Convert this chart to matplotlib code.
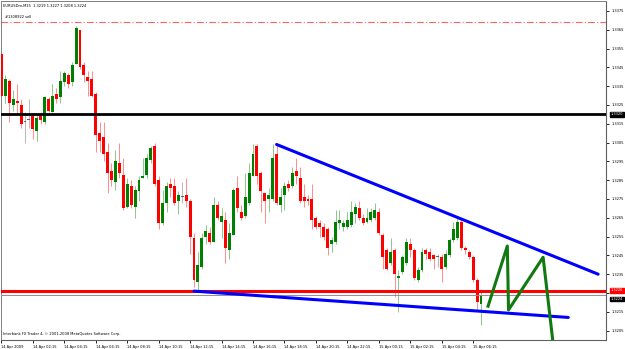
import matplotlib
matplotlib.use("Agg")
import matplotlib.pyplot as plt
import matplotlib.transforms as mtransforms
import numpy as np

# EURUSDm M15 bars, 14 Apr 2009 00:15 onward
opens = [1.3352, 1.3330, 1.3338, 1.3325, 1.3327, 1.3325, 1.3316, 1.3317, 1.3319, 1.3311,
         1.3319, 1.3316, 1.3328, 1.3321, 1.3331, 1.3329, 1.3337, 1.3341, 1.3337, 1.3347,
         1.3365, 1.3346, 1.3340, 1.3339, 1.3331, 1.3310, 1.3308, 1.3300, 1.3290, 1.3284,
         1.3294, 1.3288, 1.3271, 1.3282, 1.3271, 1.3279, 1.3286, 1.3288, 1.3296, 1.3303,
         1.3285, 1.3262, 1.3273, 1.3283, 1.3282, 1.3274, 1.3276, 1.3277, 1.3274, 1.3254,
         1.3231, 1.3239, 1.3255, 1.3257, 1.3252, 1.3272, 1.3263, 1.3264, 1.3248, 1.3256,
         1.3281, 1.3268, 1.3266, 1.3273, 1.3287, 1.3303, 1.3289, 1.3278, 1.3275, 1.3275,
         1.3299, 1.3272, 1.3277, 1.3283, 1.3282, 1.3290, 1.3286, 1.3276, 1.3275, 1.3275,
         1.3265, 1.3262, 1.3260, 1.3259, 1.3251, 1.3252, 1.3262, 1.3260, 1.3260, 1.3261,
         1.3267, 1.3270, 1.3265, 1.3263, 1.3264, 1.3265, 1.3268, 1.3256, 1.3248, 1.3241,
         1.3248, 1.3233, 1.3236, 1.3241, 1.3251, 1.3248, 1.3232, 1.3237, 1.3248, 1.3247,
         1.3245, 1.3244, 1.3244, 1.3239, 1.3245, 1.3253, 1.3254, 1.3263, 1.3249, 1.3247,
         1.3244, 1.3232, 1.3219]
highs = [1.3353, 1.3341, 1.3339, 1.3333, 1.3336, 1.3328, 1.3321, 1.3328, 1.3320, 1.3320,
         1.3321, 1.3330, 1.3329, 1.3336, 1.3334, 1.3343, 1.3343, 1.3342, 1.3348, 1.3367,
         1.3365, 1.3348, 1.3343, 1.3343, 1.3332, 1.3316, 1.3316, 1.3305, 1.3294, 1.3301,
         1.3305, 1.3297, 1.3286, 1.3285, 1.3282, 1.3287, 1.3297, 1.3299, 1.3303, 1.3305,
         1.3287, 1.3280, 1.3284, 1.3286, 1.3286, 1.3279, 1.3284, 1.3286, 1.3275, 1.3257,
         1.3247, 1.3257, 1.3261, 1.3260, 1.3276, 1.3274, 1.3270, 1.3268, 1.3262, 1.3281,
         1.3287, 1.3272, 1.3289, 1.3294, 1.3304, 1.3304, 1.3290, 1.3278, 1.3281, 1.3304,
         1.3304, 1.3281, 1.3284, 1.3285, 1.3292, 1.3297, 1.3292, 1.3283, 1.3277, 1.3283,
         1.3266, 1.3264, 1.3262, 1.3260, 1.3255, 1.3269, 1.3269, 1.3264, 1.3268, 1.3274,
         1.3273, 1.3274, 1.3267, 1.3270, 1.3270, 1.3273, 1.3270, 1.3257, 1.3249, 1.3254,
         1.3249, 1.3237, 1.3245, 1.3254, 1.3254, 1.3249, 1.3239, 1.3249, 1.3249, 1.3249,
         1.3246, 1.3246, 1.3246, 1.3248, 1.3254, 1.3263, 1.3265, 1.3265, 1.3250, 1.3248,
         1.3245, 1.3233, 1.3227]
lows = [1.3328, 1.3326, 1.3316, 1.3322, 1.3320, 1.3313, 1.3305, 1.3313, 1.3307, 1.3306,
        1.3315, 1.3315, 1.3321, 1.3321, 1.3326, 1.3326, 1.3335, 1.3334, 1.3335, 1.3347,
        1.3344, 1.3337, 1.3330, 1.3329, 1.3300, 1.3300, 1.3295, 1.3278, 1.3282, 1.3280,
        1.3286, 1.3269, 1.3270, 1.3270, 1.3265, 1.3274, 1.3286, 1.3286, 1.3294, 1.3282,
        1.3259, 1.3261, 1.3268, 1.3276, 1.3272, 1.3267, 1.3273, 1.3271, 1.3246, 1.3228,
        1.3226, 1.3238, 1.3251, 1.3251, 1.3252, 1.3264, 1.3254, 1.3241, 1.3243, 1.3256,
        1.3268, 1.3264, 1.3265, 1.3272, 1.3287, 1.3283, 1.3268, 1.3262, 1.3268, 1.3274,
        1.3272, 1.3268, 1.3269, 1.3279, 1.3281, 1.3283, 1.3273, 1.3271, 1.3272, 1.3259,
        1.3259, 1.3255, 1.3253, 1.3245, 1.3247, 1.3251, 1.3259, 1.3258, 1.3259, 1.3260,
        1.3262, 1.3264, 1.3261, 1.3262, 1.3263, 1.3264, 1.3256, 1.3238, 1.3237, 1.3240,
        1.3223, 1.3215, 1.3235, 1.3240, 1.3244, 1.3232, 1.3231, 1.3236, 1.3243, 1.3242,
        1.3238, 1.3239, 1.3231, 1.3238, 1.3244, 1.3252, 1.3253, 1.3248, 1.3246, 1.3243,
        1.3231, 1.3216, 1.3208]
closes = [1.3330, 1.3339, 1.3326, 1.3328, 1.3326, 1.3315, 1.3316, 1.3317, 1.3312, 1.3318,
          1.3317, 1.3329, 1.3322, 1.3330, 1.3328, 1.3338, 1.3342, 1.3336, 1.3346, 1.3366,
          1.3345, 1.3341, 1.3338, 1.3330, 1.3309, 1.3306, 1.3299, 1.3289, 1.3285, 1.3295,
          1.3289, 1.3270, 1.3283, 1.3272, 1.3280, 1.3285, 1.3287, 1.3297, 1.3302, 1.3283,
          1.3262, 1.3273, 1.3282, 1.3281, 1.3273, 1.3277, 1.3276, 1.3274, 1.3255, 1.3232,
          1.3240, 1.3254, 1.3258, 1.3252, 1.3272, 1.3265, 1.3266, 1.3249, 1.3257, 1.3280,
          1.3270, 1.3265, 1.3276, 1.3289, 1.3299, 1.3287, 1.3279, 1.3274, 1.3277, 1.3297,
          1.3273, 1.3276, 1.3282, 1.3281, 1.3289, 1.3287, 1.3274, 1.3274, 1.3274, 1.3264,
          1.3260, 1.3260, 1.3255, 1.3249, 1.3253, 1.3263, 1.3264, 1.3262, 1.3264, 1.3268,
          1.3271, 1.3265, 1.3262, 1.3265, 1.3268, 1.3269, 1.3257, 1.3244, 1.3238, 1.3247,
          1.3235, 1.3234, 1.3244, 1.3252, 1.3248, 1.3233, 1.3237, 1.3247, 1.3246, 1.3243,
          1.3243, 1.3244, 1.3238, 1.3246, 1.3253, 1.3259, 1.3263, 1.3249, 1.3248, 1.3244,
          1.3232, 1.3220, 1.3224]

time_labels = ["14 Apr 2009", "14 Apr 02:15", "14 Apr 04:15", "14 Apr 06:15",
               "14 Apr 08:15", "14 Apr 10:15", "14 Apr 12:15", "14 Apr 14:15",
               "14 Apr 16:15", "14 Apr 18:15", "14 Apr 20:15", "14 Apr 22:15",
               "15 Apr 00:15", "15 Apr 02:15", "15 Apr 04:15", "15 Apr 06:15"]
label_bars = list(range(0, 121, 8))
price_ticks = [1.3375, 1.3365, 1.3355, 1.3345, 1.3335, 1.3325, 1.3315, 1.3305, 1.3295,
               1.3285, 1.3275, 1.3265, 1.3255, 1.3245, 1.3235, 1.3225, 1.3215, 1.3205]

# drawn objects (bar index, price)
upper_trend_x = [70, 151.8]
upper_trend_y = [1.3304, 1.3235]
lower_trend_x = [49, 144.2]
lower_trend_y = [1.3226, 1.3212]
zigzag_x = [123.8, 128.7, 129.0, 137.8, 140.8]
zigzag_y = [1.3218, 1.3250, 1.3216, 1.3244, 1.3190]
support_level = 1.3226
black_level = 1.3320
sell_level = 1.3369
bid_level = 1.3224

W, H = 625, 349
fig = plt.figure(figsize=(W / 100, H / 100), dpi=100)
ax = fig.add_axes([1 / W, 9 / H, 605 / W, 339 / H])

o = np.array(opens); h = np.array(highs); l = np.array(lows); c = np.array(closes)
x = np.arange(len(o))
cols = np.where(c > o, "#008000", np.where(c < o, "#ff0000", "#606060"))

ax.vlines(x, l, h, colors=cols, linewidth=0.7, alpha=0.45, zorder=2)
body = np.abs(c - o)
body = np.where(body < 0.00005, 0.00005, body)
ax.bar(x, body, bottom=np.minimum(o, c), width=0.75, color=cols, linewidth=0, zorder=3)

ax.axhline(black_level, color="black", linewidth=2.0, zorder=4)
ax.axhline(bid_level, color="#909090", linewidth=0.7, zorder=4)
ax.axhline(support_level, color="#ff0000", linewidth=2.2, zorder=4)
ax.axhline(sell_level, color="#ff3030", alpha=0.75, linewidth=0.8,
           linestyle=(0, (6, 2, 1, 2)), zorder=4)

ax.plot(upper_trend_x, upper_trend_y, color="#0000ff", linewidth=2.2, solid_capstyle="round", zorder=5)
ax.plot(lower_trend_x, lower_trend_y, color="#0000ff", linewidth=2.2, solid_capstyle="round", zorder=5)
ax.plot(zigzag_x, zigzag_y, color="#107a10", linewidth=2.2, zorder=5)

ax.set_xlim(-0.1, 153.8)
ax.set_ylim(1.3200, 1.33803)

ax.yaxis.tick_right()
ax.set_yticks(price_ticks)
ax.set_yticklabels([f"{p:.4f}" for p in price_ticks])
ax.tick_params(axis="y", direction="out", length=2.5, width=0.6, pad=1.5,
               labelsize=2.6, colors="black")
ax.set_xticks(label_bars)
ax.set_xticklabels(time_labels)
for t in ax.get_xticklabels():
    t.set_horizontalalignment("left")
ax.tick_params(axis="x", direction="out", length=2.5, width=0.6, pad=1.0, labelsize=2.6)

for s in ["left", "top"]:
    ax.spines[s].set_color("#808080")
    ax.spines[s].set_linewidth(0.7)
for s in ["right", "bottom"]:
    ax.spines[s].set_color("#606060")
    ax.spines[s].set_linewidth(0.8)

# price boxes on the right scale; bid box sits just under the red one
trans = mtransforms.blended_transform_factory(ax.transAxes, ax.transData)
ax.text(1.008, bid_level - 0.00022, f"{bid_level:.4f}", transform=trans, fontsize=2.6,
        color="white", va="center", ha="left", clip_on=False,
        bbox=dict(boxstyle="square,pad=0.12", fc="black", ec="black"))
ax.text(1.008, support_level + 0.00004, f"{support_level:.4f}", transform=trans, fontsize=2.6,
        color="white", va="center", ha="left", clip_on=False,
        bbox=dict(boxstyle="square,pad=0.12", fc="#ff0000", ec="#ff0000"))
ax.text(1.008, black_level, f"{black_level:.4f}", transform=trans, fontsize=2.6, color="white",
        va="center", ha="left", clip_on=False,
        bbox=dict(boxstyle="square,pad=0.15", fc="black", ec="black"))

fig.text(3 / W, 1 - 6 / H, "EURUSDm,M15  1.3219 1.3227 1.3208 1.3224", fontsize=2.6,
         va="center", ha="left")
fig.text(5 / W, 1 - 17 / H, "#1308922 sell", fontsize=2.6, va="center", ha="left")
fig.text(3 / W, 1 - 334 / H, "Interbank FX Trader 4, \u00a9 2001-2008 MetaQuotes Software Corp.",
         fontsize=2.6, va="center", ha="left")

fig.savefig("out.png", dpi=100, facecolor="white")
